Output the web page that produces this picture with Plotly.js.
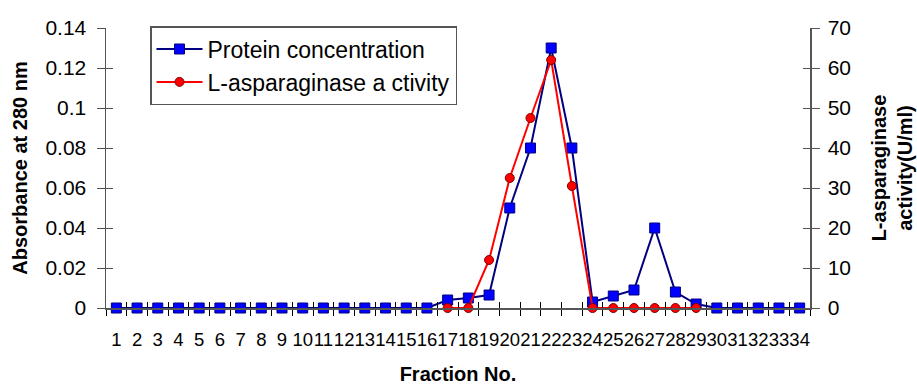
<!DOCTYPE html>
<html><head><meta charset="utf-8">
<script src="https://cdn.plot.ly/plotly-3.0.1.min.js"></script>
<style>html,body{margin:0;padding:0;background:#fff;}#chart{width:917px;height:385px;}</style>
</head><body><div id="chart"></div>
<script>
const fractions = ["1","2","3","4","5","6","7","8","9","10","11","12","13","14","15","16","17","18","19","20","21","22","23","24","25","26","27","28","29","30","31","32","33","34"];
const protein = [0,0,0,0,0,0,0,0,0,0,0,0,0,0,0,0,0.004,0.005,0.0065,0.05,0.08,0.13,0.08,0.003,0.006,0.009,0.04,0.008,0.002,0,0,0,0,0];
const activity = [null,null,null,null,null,null,null,null,null,null,null,null,null,null,null,null,0,0,12,32.5,47.5,62,30.5,0,0,0,0,0,0,null,null,null,null,null];

const font = {family:"Liberation Sans, Arial, sans-serif", size:20, color:"#000"};
const axisCol = "#555";
const traces = [
  {x:fractions, y:protein, type:"scatter", mode:"lines+markers", name:"Protein concentration", cliponaxis:false,
   line:{color:"#000080", width:2}, marker:{symbol:"square", size:10, color:"#0000FF", line:{color:"#000080", width:1}}},
  {x:fractions, y:activity, type:"scatter", mode:"lines+markers", name:"L-asparaginase a ctivity", yaxis:"y2", cliponaxis:false,
   line:{color:"#FF0000", width:2}, marker:{symbol:"circle", size:9, color:"#FF0000", line:{color:"#800000", width:1}}},
  {x:[], y:[], xaxis:"x2", yaxis:"y3", showlegend:false, hoverinfo:"skip"},
  {x:[], y:[], xaxis:"x2", yaxis:"y4", showlegend:false, hoverinfo:"skip"}
];
const layout = {
  width:917, height:385, margin:{l:106, r:107, t:28, b:77},
  paper_bgcolor:"#fff", plot_bgcolor:"#fff", font:font, showlegend:true,
  xaxis:{type:"category", range:[-0.5,33.5], tickson:"boundaries", tickmode:"linear", dtick:1, tickangle:0,
    ticks:"outside", ticklen:6, tickcolor:"#000", showline:true, linecolor:axisCol, linewidth:1.5,
    showgrid:false, zeroline:false, tickfont:{size:18.5}, ticklabelstandoff:14,
    title:{text:"<b>Fraction No.</b>", font:{size:20}, standoff:24}},
  xaxis2:{type:"linear", overlaying:"x", anchor:"y", range:[0.5,34.5], tick0:0.5, dtick:1,
    ticks:"inside", ticklen:6, tickcolor:"#000", showticklabels:false, showline:false, showgrid:false, zeroline:false},
  yaxis:{range:[0,0.14], dtick:0.02, ticks:"outside", ticklen:8, tickcolor:axisCol, showline:true, linecolor:axisCol, linewidth:1.5,
    showgrid:false, zeroline:false, tickfont:{size:21}, ticklabelstandoff:6,
    title:{text:"<b>Absorbance at 280 nm</b>", font:{size:20}, standoff:12}},
  yaxis2:{overlaying:"y", side:"right", range:[0,70], dtick:10, ticks:"outside", ticklen:8, tickcolor:axisCol,
    showline:true, linecolor:axisCol, linewidth:1.5, showgrid:false, zeroline:false, tickfont:{size:21}, ticklabelstandoff:4,
    title:{text:"<b>L-asparaginase<br>activity(U/ml)</b>", font:{size:20}, standoff:22}},
  yaxis3:{overlaying:"y", side:"left", range:[0,0.14], dtick:0.02, ticks:"inside", ticklen:7, tickcolor:axisCol,
    showticklabels:false, showline:false, showgrid:false, zeroline:false},
  yaxis4:{overlaying:"y", side:"right", range:[0,70], dtick:10, ticks:"inside", ticklen:7, tickcolor:axisCol,
    showticklabels:false, showline:false, showgrid:false, zeroline:false},
  legend:{x:0.0625, y:1.007, xanchor:"left", yanchor:"top", bgcolor:"#fff", bordercolor:"#555", borderwidth:1.5,
    font:{size:23}, tracegroupgap:0, itemwidth:46}
};
Plotly.newPlot("chart", traces, layout, {displayModeBar:false, staticPlot:true});
</script></body></html>
